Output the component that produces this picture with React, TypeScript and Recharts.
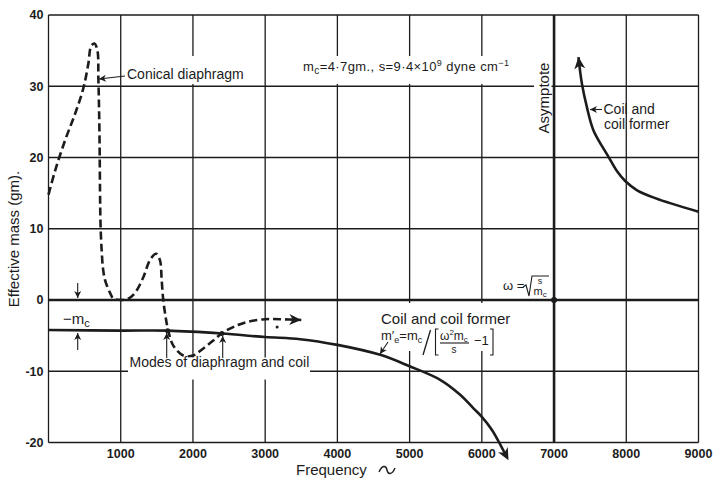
import React from 'react';
import {
  CartesianGrid,
  Line,
  LineChart,
  ReferenceDot,
  ReferenceLine,
  XAxis,
  YAxis,
} from 'recharts';

const INK = '#1c1c1c';
const FONT = "'Liberation Sans', Arial, sans-serif";

const xTicks = [0, 1000, 2000, 3000, 4000, 5000, 6000, 7000, 8000, 9000];
const yTicks = [-20, -10, 0, 10, 20, 30, 40];

// conical diaphragm (dashed curve)
const coneFreq = [0, 90, 229, 367, 482, 552, 589, 635, 676, 691, 705, 716, 723, 737, 755, 783, 852, 898, 1000, 1105, 1198, 1313, 1405, 1488, 1543, 1567, 1589, 1622, 1658, 1728, 1866, 2004, 2143, 2281, 2397, 2557, 2743, 2996, 3203, 3500];
const coneMass = [14.8, 18.1, 22.4, 26.1, 29.7, 33.2, 35.6, 36.0, 35.1, 30.8, 23.8, 13.0, 9.8, 6.8, 4.4, 2.8, 1.0, 0.2, 0, 0.2, 1.0, 3.2, 5.6, 6.5, 5.6, 2.8, 0, -2.4, -4.3, -6.4, -7.8, -7.8, -6.8, -5.7, -4.7, -3.8, -3.1, -2.7, -2.7, -2.8];

// coil and coil former, below the resonance
const coilLowFreq = [0, 1000, 1650, 2400, 3000, 3485, 4000, 4593, 5000, 5423, 5700, 5884, 6000, 6138, 6240];
const coilLowMass = [-4.2, -4.3, -4.3, -4.7, -5.2, -5.5, -6.3, -7.7, -9.3, -11.2, -13.3, -15.2, -16.4, -18.2, -20];

// coil and coil former, above the resonance
const coilHighFreq = [7338, 7385, 7454, 7546, 7754, 7870, 7985, 8150, 8400, 9000];
const coilHighMass = [34.1, 30.4, 27.1, 23.8, 20.1, 18.1, 16.7, 15.4, 14.3, 12.4];

// marked points (intersections, resonance)
const markFreq = [7000, 1650, 2400, 3166];
const markMass = [0, -4.3, -4.7, -3.8];
const markSize = [3, 2.5, 2.5, 1.5];

const zip = (xs: number[], ys: number[]) => xs.map((x, i) => ({ x, y: ys[i] }));

const cone = zip(coneFreq, coneMass);
const coilLow = zip(coilLowFreq, coilLowMass);
const coilHigh = zip(coilHighFreq, coilHighMass);

// centripetal Catmull-Rom, same maths as d3's curveCatmullRom (alpha 0.5)
const catmullRom = (context: any) => {
  let pts: number[][] = [];
  const seg = (p0: number[], p1: number[], p2: number[], p3: number[]) => {
    const d = (a: number[], b: number[]) => Math.hypot(b[0] - a[0], b[1] - a[1]);
    const l01 = Math.sqrt(d(p0, p1));
    const l12 = Math.sqrt(d(p1, p2));
    const l23 = Math.sqrt(d(p2, p3));
    let x1 = p1[0], y1 = p1[1], x2 = p2[0], y2 = p2[1];
    if (l01 > 1e-6) {
      const a = 2 * l01 * l01 + 3 * l01 * l12 + l12 * l12;
      const n = 3 * l01 * (l01 + l12);
      x1 = (x1 * a - p0[0] * l12 * l12 + p2[0] * l01 * l01) / n;
      y1 = (y1 * a - p0[1] * l12 * l12 + p2[1] * l01 * l01) / n;
    }
    if (l23 > 1e-6) {
      const b = 2 * l23 * l23 + 3 * l23 * l12 + l12 * l12;
      const m = 3 * l23 * (l23 + l12);
      x2 = (x2 * b + p1[0] * l23 * l23 - p3[0] * l12 * l12) / m;
      y2 = (y2 * b + p1[1] * l23 * l23 - p3[1] * l12 * l12) / m;
    }
    context.bezierCurveTo(x1, y1, x2, y2, p2[0], p2[1]);
  };
  return {
    areaStart() {},
    areaEnd() {},
    lineStart() {
      pts = [];
    },
    point(x: number, y: number) {
      pts.push([+x, +y]);
    },
    lineEnd() {
      const n = pts.length;
      if (!n) return;
      context.moveTo(pts[0][0], pts[0][1]);
      if (n === 2) {
        context.lineTo(pts[1][0], pts[1][1]);
        return;
      }
      for (let i = 0; i < n - 1; i++) {
        seg(pts[i - 1] || pts[i], pts[i], pts[i + 1], pts[i + 2] || pts[i + 1]);
      }
    },
  };
};

const tickStyle = { fontSize: 12.5, fontWeight: 700, fill: INK, fontFamily: FONT };

function Markers() {
  return (
    <svg width={0} height={0} style={{ position: 'absolute' }}>
      <defs>
        <marker id="head" markerUnits="userSpaceOnUse" markerWidth={16} markerHeight={14}
          refX={12} refY={6} orient="auto" overflow="visible">
          <path d="M0,0.5 L12,6 L0,11.5 L3.5,6 Z" fill={INK} />
        </marker>
        <marker id="headStart" markerUnits="userSpaceOnUse" markerWidth={16} markerHeight={14}
          refX={12} refY={6} orient="auto-start-reverse" overflow="visible">
          <path d="M0,0.5 L12,6 L0,11.5 L3.5,6 Z" fill={INK} />
        </marker>
        <marker id="stemHead" markerUnits="userSpaceOnUse" markerWidth={26} markerHeight={14}
          refX={0} refY={6} orient="auto" overflow="visible">
          <path d="M0,6 L14,6" stroke={INK} strokeWidth={2.6} />
          <path d="M8,0.5 L20,6 L8,11.5 L11.5,6 Z" fill={INK} />
        </marker>
        <marker id="small" markerUnits="userSpaceOnUse" markerWidth={10} markerHeight={8}
          refX={7} refY={3.5} orient="auto" overflow="visible">
          <path d="M0,0 L7,3.5 L0,7 L2,3.5 Z" fill={INK} />
        </marker>
      </defs>
    </svg>
  );
}

function Notes() {
  const t = { fontFamily: FONT, fill: INK };
  const thin = { stroke: INK, strokeWidth: 1.1, fill: 'none' };
  return (
    <svg width={715} height={480} style={{ position: 'absolute', left: 0, top: 0, pointerEvents: 'none' }}>
      {/* white patches behind lettering */}
      <rect x={124} y={56} width={122} height={28} fill="#fff" />
      <rect x={300} y={56} width={215} height={28} fill="#fff" />
      <rect x={534} y={60} width={17.5} height={76} fill="#fff" />
      <rect x={377} y={303} width={136} height={48} fill="#fff" />
      <rect x={128} y={357.5} width={182} height={22} fill="#fff" />

      <line x1={125} y1={76} x2={99} y2={79} {...thin} markerEnd="url(#small)" />
      <text x={127} y={78.5} fontSize={14} {...t}>Conical diaphragm</text>

      <text x={303} y={71} fontSize={13} textLength={206} lengthAdjust="spacing" {...t}>
        m<tspan fontSize={10} dy={3}>c</tspan>
        <tspan dy={-3}>=4·7gm., s=9·4×10</tspan>
        <tspan fontSize={9} dy={-5}>9</tspan>
        <tspan dy={5}> dyne cm</tspan>
        <tspan fontSize={9} dy={-5}>−1</tspan>
      </text>

      <text x={548.5} y={98} fontSize={15} textAnchor="middle" transform="rotate(-90 548.5 98)" {...t}>
        Asymptote
      </text>

      <line x1={602} y1={109.5} x2={590} y2={109.5} {...thin} markerEnd="url(#small)" />
      <text x={603.5} y={113.5} fontSize={14} {...t}>Coil and</text>
      <text x={604} y={128.5} fontSize={14} {...t}>coil former</text>

      <text x={503} y={290} fontSize={13} {...t}>ω =</text>
      <path d="M523,287 L526,285 L529,296 L532,276 L549,276" {...thin} />
      <text x={540} y={284} fontSize={9} textAnchor="middle" {...t}>s</text>
      <text x={533.5} y={295} fontSize={11} {...t}>m<tspan fontSize={8} dy={2}>c</tspan></text>

      <text x={381} y={323.5} fontSize={15} {...t}>Coil and coil former</text>
      <text x={381} y={340} fontSize={13} {...t}>
        m′<tspan fontSize={9} dy={3}>e</tspan>
        <tspan dy={-3}>=m</tspan>
        <tspan fontSize={9} dy={3}>c</tspan>
      </text>
      <line x1={423} y1={355} x2={430.5} y2={330} stroke={INK} strokeWidth={1.3} />
      <path d="M438.5,329 L435.5,329 L435.5,355 L438.5,355" {...thin} />
      <text x={440} y={340} fontSize={12} {...t}>
        ω<tspan fontSize={8} dy={-5}>2</tspan>
        <tspan dy={5}>m</tspan>
        <tspan fontSize={8} dy={2}>c</tspan>
      </text>
      <line x1={440} y1={343} x2={469} y2={343} {...thin} />
      <text x={454} y={353} fontSize={10} textAnchor="middle" {...t}>s</text>
      <text x={474} y={345} fontSize={13} {...t}>−1</text>
      <path d="M490,329 L493,329 L493,355 L490,355" {...thin} />
      <line x1={388} y1={342} x2={380} y2={354} {...thin} markerEnd="url(#small)" />

      <text x={63} y={324} fontSize={15} {...t}>
        −m<tspan fontSize={11} dy={3}>c</tspan>
      </text>
      <line x1={77.7} y1={283} x2={77.7} y2={298} {...thin} markerEnd="url(#small)" />
      <line x1={77.7} y1={350} x2={77.7} y2={333} {...thin} markerEnd="url(#small)" />

      <text x={129.5} y={367} fontSize={14} {...t}>Modes of diaphragm and coil</text>
      <line x1={166.7} y1={358} x2={166.7} y2={333} {...thin} markerEnd="url(#small)" />
      <line x1={222.7} y1={358} x2={222.7} y2={336} {...thin} markerEnd="url(#small)" />

      <text x={19} y={239} fontSize={15} textAnchor="middle" transform="rotate(-90 19 239)" {...t}>
        Effective mass (gm).
      </text>
      <text x={296} y={475} fontSize={15} {...t}>Frequency</text>
      <path d="M379,472 C382,465 386,465 387,470 C388,475 392,475 395,468" stroke={INK} strokeWidth={1.4} fill="none" />
    </svg>
  );
}

export default function App() {
  return (
    <div style={{ position: 'absolute', left: 0, top: 0, width: 715, height: 480, background: '#fff' }}>
      <Markers />
      <LineChart width={715} height={480} margin={{ top: 15, right: 16.5, bottom: 0, left: 0.5 }}>
        <CartesianGrid stroke={INK} strokeWidth={1.3} />
        <XAxis
          type="number"
          dataKey="x"
          domain={[0, 9000]}
          ticks={xTicks}
          interval={0}
          tickFormatter={(v: number) => (v === 0 ? '' : String(v))}
          axisLine={false}
          tickLine={false}
          tickSize={5}
          height={37.5}
          tick={tickStyle}
        />
        <YAxis
          type="number"
          dataKey="y"
          domain={[-20, 40]}
          ticks={yTicks}
          interval={0}
          axisLine={false}
          tickLine={false}
          tickSize={3}
          width={48}
          tick={tickStyle}
        />
        <ReferenceLine y={0} stroke={INK} strokeWidth={2.6} />
        <ReferenceLine x={7000} stroke={INK} strokeWidth={2.6} />
        <Line
          data={cone}
          dataKey="y"
          type={catmullRom as any}
          stroke={INK}
          strokeWidth={2.6}
          strokeDasharray="8 4"
          dot={false}
          activeDot={false}
          markerEnd="url(#head)"
          isAnimationActive={false}
        />
        <Line
          data={coilLow}
          dataKey="y"
          type={catmullRom as any}
          stroke={INK}
          strokeWidth={2.6}
          dot={false}
          activeDot={false}
          markerEnd="url(#stemHead)"
          isAnimationActive={false}
        />
        <Line
          data={coilHigh}
          dataKey="y"
          type={catmullRom as any}
          stroke={INK}
          strokeWidth={2.6}
          dot={false}
          activeDot={false}
          markerStart="url(#headStart)"
          isAnimationActive={false}
        />
        {markFreq.map((f, i) => (
          <ReferenceDot key={f} x={f} y={markMass[i]} r={markSize[i]} fill={INK} stroke="none" />
        ))}
      </LineChart>
      <Notes />
    </div>
  );
}
